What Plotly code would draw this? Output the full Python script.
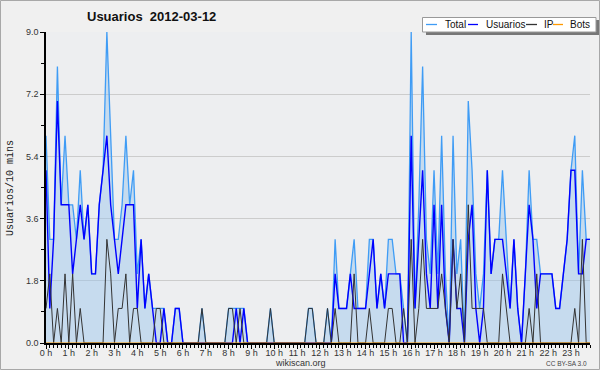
import plotly.graph_objects as go
import pandas as pd

# 10-minute slots on 2012-03-12
times = pd.date_range("2012-03-12 00:00", periods=144, freq="10min")

total = [6, 3, 3, 8, 4, 6, 4, 4, 3, 5, 3, 4, 2, 2, 4, 5, 9, 6, 3, 3, 4, 6, 4, 5,
         2, 3, 1, 2, 1, 1, 1, 1, 0, 0, 1, 1, 0, 0, 0, 0, 0, 1, 0, 0, 0, 0, 0, 0,
         1, 1, 1, 1, 1, 0, 0, 0, 0, 0, 0, 1, 0, 0, 0, 0, 0, 0, 0, 0, 0, 1, 1, 0,
         0, 0, 1, 0, 3, 1, 1, 1, 2, 3, 1, 1, 1, 3, 3, 1, 2, 1, 3, 3, 2, 2, 1, 0,
         9, 1, 4, 8, 3, 2, 5, 2, 6, 2, 0, 6, 2, 3, 0, 7, 5, 2, 1, 2, 5, 2, 3, 3,
         5, 3, 1, 3, 1, 0, 2, 5, 3, 3, 2, 2, 2, 2, 1, 1, 2, 3, 5, 6, 2, 5, 3, 3]

usuarios = [5, 1, 3, 7, 4, 4, 4, 2, 3, 4, 3, 4, 2, 2, 4, 5, 6, 4, 3, 2, 3, 4, 4, 4,
            1, 3, 1, 2, 1, 0, 0, 1, 0, 0, 1, 1, 0, 0, 0, 0, 0, 0, 0, 0, 0, 0, 0, 0,
            0, 0, 1, 0, 1, 0, 0, 0, 0, 0, 0, 0, 0, 0, 0, 0, 0, 0, 0, 0, 0, 0, 0, 0,
            0, 0, 0, 0, 2, 1, 1, 1, 2, 1, 1, 1, 1, 2, 3, 1, 2, 1, 2, 2, 2, 2, 0, 0,
            6, 1, 3, 5, 2, 1, 4, 1, 4, 1, 0, 3, 1, 1, 0, 3, 4, 1, 0, 1, 5, 2, 3, 3,
            3, 2, 1, 3, 1, 0, 2, 4, 3, 1, 2, 2, 2, 2, 1, 1, 2, 3, 5, 5, 2, 2, 3, 3]

ip = [1, 2, 0, 1, 0, 2, 0, 2, 0, 1, 0, 0, 0, 0, 0, 0, 3, 2, 0, 1, 1, 2, 0, 1,
      1, 0, 0, 0, 0, 1, 1, 0, 0, 0, 0, 0, 0, 0, 0, 0, 0, 1, 0, 0, 0, 0, 0, 0,
      1, 1, 0, 1, 0, 0, 0, 0, 0, 0, 0, 1, 0, 0, 0, 0, 0, 0, 0, 0, 0, 1, 1, 0,
      0, 0, 1, 0, 1, 0, 0, 0, 0, 2, 0, 0, 0, 1, 0, 0, 0, 0, 1, 1, 0, 0, 1, 0,
      3, 0, 1, 3, 1, 1, 1, 1, 2, 1, 0, 3, 1, 2, 0, 4, 1, 1, 1, 1, 0, 0, 0, 0,
      2, 1, 0, 0, 0, 0, 0, 1, 0, 2, 0, 0, 0, 0, 0, 0, 0, 0, 0, 1, 0, 3, 0, 0]

bots = [0] * 144

hour_ticks = pd.date_range("2012-03-12 00:00", periods=24, freq="h")
hour_labels = [f"{h} h" for h in range(24)]
y_ticks = [0.0, 1.8, 3.6, 5.4, 7.2, 9.0]

# plot-area geometry (pixels)
W, H = 600, 370
L, R, T, B = 46, 10, 32, 27
PW, PH = W - L - R, H - T - B


def px(x):
    return (x - L) / PW


def py(y):
    return (H - B - y) / PH


FONT = "Liberation Sans, Arial, sans-serif"

fig = go.Figure()
fig.add_trace(go.Scatter(x=times, y=total, name="Total", mode="lines",
                         line=dict(color="#3f9cf5", width=1.3),
                         fill="tozeroy", fillcolor="rgba(150,195,235,0.45)"))
fig.add_trace(go.Scatter(x=times, y=usuarios, name="Usuarios", mode="lines",
                         line=dict(color="#0000ff", width=1.4)))
fig.add_trace(go.Scatter(x=times, y=ip, name="IP", mode="lines",
                         line=dict(color="#333333", width=1)))
fig.add_trace(go.Scatter(x=times, y=bots, name="Bots", mode="lines",
                         line=dict(color="#ff9900", width=1)))

fig.update_layout(
    width=W, height=H,
    margin=dict(l=L, r=R, t=T, b=B, autoexpand=False),
    paper_bgcolor="#f0f0f0",
    plot_bgcolor="#edeef0",
    showlegend=False,
    font=dict(family=FONT, size=9, color="#222222"),
)

fig.update_xaxes(
    automargin=False,
    range=[times[0], times[-1]],
    tickvals=hour_ticks, ticktext=hour_labels,
    ticks="outside", ticklen=4, tickcolor="#000", tickwidth=1,
    ticklabelstandoff=-4,
    showgrid=False, zeroline=False,
    showline=True, linecolor="#000", linewidth=2,
    minor=dict(dtick=600000, tick0="2012-03-12", ticks="outside", ticklen=3,
               tickcolor="#000", showgrid=False),
    tickfont=dict(size=9, color="#333"),
)
fig.update_yaxes(
    automargin=False,
    range=[0, 9], tickvals=y_ticks, tickformat=".1f",
    ticks="outside", ticklen=4, tickcolor="#000",
    showgrid=True, gridcolor="#cccccc", gridwidth=1,
    zeroline=False, showline=True, linecolor="#000", linewidth=1.5,
    minor=dict(dtick=0.9, tick0=0, ticks="outside", ticklen=3,
               tickcolor="#000", showgrid=False),
    tickfont=dict(size=9, color="#333"),
)


def note(text, x, y, size, color="#222", family=FONT, xanchor="center", angle=0):
    return dict(text=text, x=px(x), y=py(y), xref="paper", yref="paper",
                xanchor=xanchor, yanchor="middle", showarrow=False, textangle=angle,
                font=dict(size=size, color=color, family=family))


annotations = [
    note("<b>Usuarios  2012-03-12</b>", 151, 16, 13, "#111"),
    note("Usuarios/10 mins", 10, 188, 10, "#222",
         family="Liberation Mono, DejaVu Sans Mono, monospace", angle=-90),
    note("wikiscan.org", 300, 362.5, 9, "#333"),
    note("CC BY-SA 3.0", 589, 363, 6.5, "#444", xanchor="right"),
]

shapes = [
    # frame round the whole image
    dict(type="rect", xref="paper", yref="paper", x0=px(0.5), x1=px(599.5), y0=py(369.5), y1=py(0.5),
         line=dict(color="#a8a8a8", width=1), fillcolor="rgba(0,0,0,0)", layer="above"),
    # legend shadow + box
    dict(type="rect", xref="paper", yref="paper", x0=px(426), x1=px(599), y0=py(35), y1=py(20),
         line=dict(width=0), fillcolor="#777777", layer="above"),
    dict(type="rect", xref="paper", yref="paper", x0=px(422.5), x1=px(596), y0=py(32), y1=py(17.5),
         line=dict(color="#999999", width=1), fillcolor="#ffffff", layer="above"),
]

legend_items = [("Total", "#3f9cf5", 426, 437, 443),
                ("Usuarios", "#0000ff", 468, 478, 484),
                ("IP", "#333333", 526, 537, 542),
                ("Bots", "#ff9900", 553, 563, 568)]
for name, col, lx0, lx1, tx in legend_items:
    shapes.append(dict(type="line", xref="paper", yref="paper", x0=px(lx0), x1=px(lx1),
                       y0=py(24.5), y1=py(24.5), line=dict(color=col, width=1.3), layer="above"))
    annotations.append(note(name, tx, 24.5, 10, "#111", xanchor="left"))

fig.update_layout(annotations=annotations, shapes=shapes)

fig.write_html("out.html", config={"displayModeBar": False},
               post_script="document.body.style.margin='0';document.body.style.overflow='hidden';")
